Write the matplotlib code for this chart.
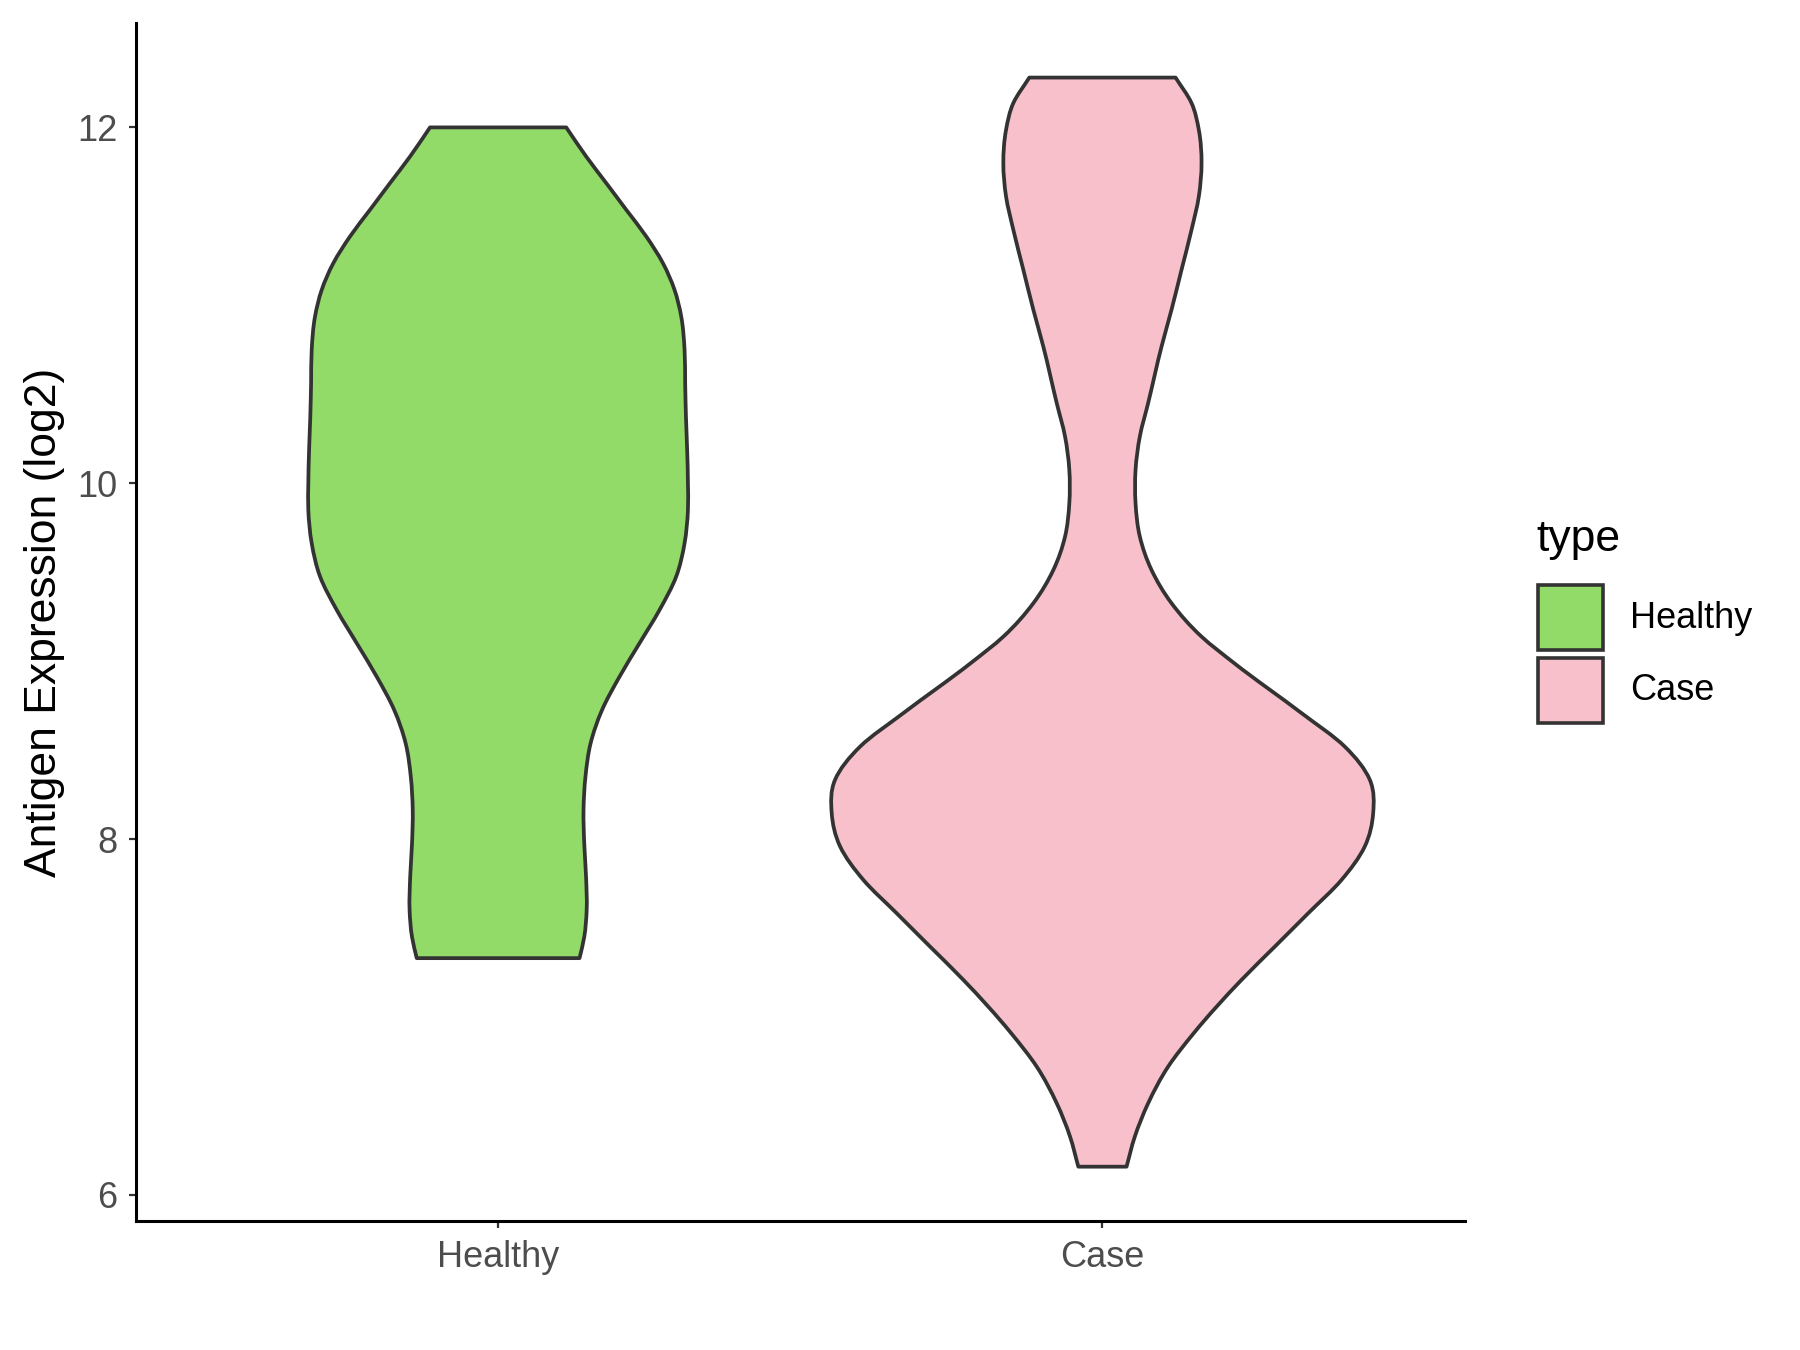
import matplotlib.pyplot as plt
from matplotlib.patches import Rectangle, PathPatch
from matplotlib.path import Path
import numpy as np

plt.rcParams['font.family'] = ['Liberation Sans', 'DejaVu Sans']

categories = ['Healthy', 'Case']
fills = ['#93DB69', '#F8C0CB']

# violin outline: expression level and half-width (x units)
healthy_y = [12.0, 11.836, 11.687, 11.537, 11.387, 11.237, 11.087, 10.937, 10.75,
             10.563, 10.375, 10.188, 10.0, 9.85, 9.663, 9.476, 9.288, 9.101, 8.913,
             8.726, 8.538, 8.35, 8.163, 7.975, 7.788, 7.6, 7.45, 7.331]
healthy_half = [0.1127, 0.1458, 0.1789, 0.212, 0.2451, 0.2727, 0.2919, 0.303, 0.3085,
                0.3095, 0.3108, 0.3128, 0.3141, 0.3141, 0.3085, 0.2947, 0.2671, 0.234,
                0.2009, 0.172, 0.153, 0.1445, 0.1413, 0.1425, 0.1455, 0.1465, 0.1425,
                0.1347]

case_y = [12.28, 12.137, 11.986, 11.799, 11.612, 11.424, 11.2, 10.975, 10.768,
          10.45, 10.263, 10.075, 9.888, 9.7, 9.513, 9.326, 9.138, 8.989, 8.708,
          8.52, 8.333, 8.146, 7.958, 7.771, 7.583, 7.396, 7.209, 6.909, 6.721,
          6.515, 6.328, 6.159]
case_half = [0.121, 0.1474, 0.1595, 0.164, 0.1595, 0.1474, 0.1309, 0.1143, 0.0978,
             0.0756, 0.0619, 0.0548, 0.0548, 0.0619, 0.0812, 0.1143, 0.164, 0.218,
             0.3295, 0.401, 0.4425, 0.448, 0.434, 0.3957, 0.3404, 0.2853, 0.2302,
             0.151, 0.1087, 0.0756, 0.0536, 0.0399]

y_ticks = [6, 8, 10, 12]


def side_path(xs, ys):
    # cubic hermite segments (x as a function of y) through the read points
    n = len(ys)
    h = np.diff(ys)
    d = np.diff(xs) / h
    m = np.empty(n)
    m[0], m[-1] = d[0], d[-1]
    for k in range(1, n - 1):
        m[k] = (d[k - 1] * h[k] + d[k] * h[k - 1]) / (h[k - 1] + h[k])
    verts, codes = [], []
    for k in range(n - 1):
        verts += [(xs[k] + m[k] * h[k] / 3, ys[k] + h[k] / 3),
                  (xs[k + 1] - m[k + 1] * h[k] / 3, ys[k + 1] - h[k] / 3),
                  (xs[k + 1], ys[k + 1])]
        codes += [Path.CURVE4] * 3
    return verts, codes


def violin_path(c, ys, hw):
    ys = np.asarray(ys)
    hw = np.asarray(hw)
    verts = [(c - hw[0], ys[0])]
    codes = [Path.MOVETO]
    v, cd = side_path(c - hw, ys)
    verts += v
    codes += cd
    verts.append((c + hw[-1], ys[-1]))
    codes.append(Path.LINETO)
    v, cd = side_path((c + hw)[::-1], ys[::-1])
    verts += v
    codes += cd
    verts.append((c - hw[0], ys[0]))
    codes.append(Path.CLOSEPOLY)
    return Path(np.array(verts), codes)


fig = plt.figure(figsize=(18, 13.5), dpi=100)
ax = fig.add_axes([0.0753, 0.0952, 0.7386, 0.8878])

profiles = [(healthy_y, healthy_half), (case_y, case_half)]
for i, (ys, hw) in enumerate(profiles):
    patch = PathPatch(violin_path(i + 1, ys, hw), facecolor=fills[i],
                      edgecolor='#333333', lw=2.7, joinstyle='round')
    ax.add_patch(patch)

ax.set_xlim(0.4, 2.6)
ax.set_ylim(5.851, 12.587)
ax.set_xticks([1, 2])
ax.set_xticklabels(categories)
ax.set_yticks(y_ticks)
ax.set_ylabel('Antigen Expression (log2)', fontsize=32, labelpad=9)

for s in ['top', 'right']:
    ax.spines[s].set_visible(False)
for s in ['left', 'bottom']:
    ax.spines[s].set_linewidth(2.2)
    ax.spines[s].set_color('black')
ax.tick_params(axis='both', length=5, width=1.6, color='#333333',
               labelsize=26, labelcolor='#4D4D4D', pad=8)

# legend drawn in figure pixels
W, H = 1800, 1350
fig.text(1536 / W, 1 - 540 / H, 'type', fontsize=32, va='center', ha='left')
keys = [(585, 'Healthy'), (658, 'Case')]
for (top, lab), col in zip(keys, fills):
    fig.add_artist(Rectangle((1538 / W, 1 - (top + 65) / H), 65 / W, 65 / H,
                             transform=fig.transFigure, facecolor=col,
                             edgecolor='#333333', lw=2.6))
    fig.text(1630 / W, 1 - (top + 33) / H, lab, fontsize=26, va='center', ha='left')

fig.savefig('out.png', dpi=100)
